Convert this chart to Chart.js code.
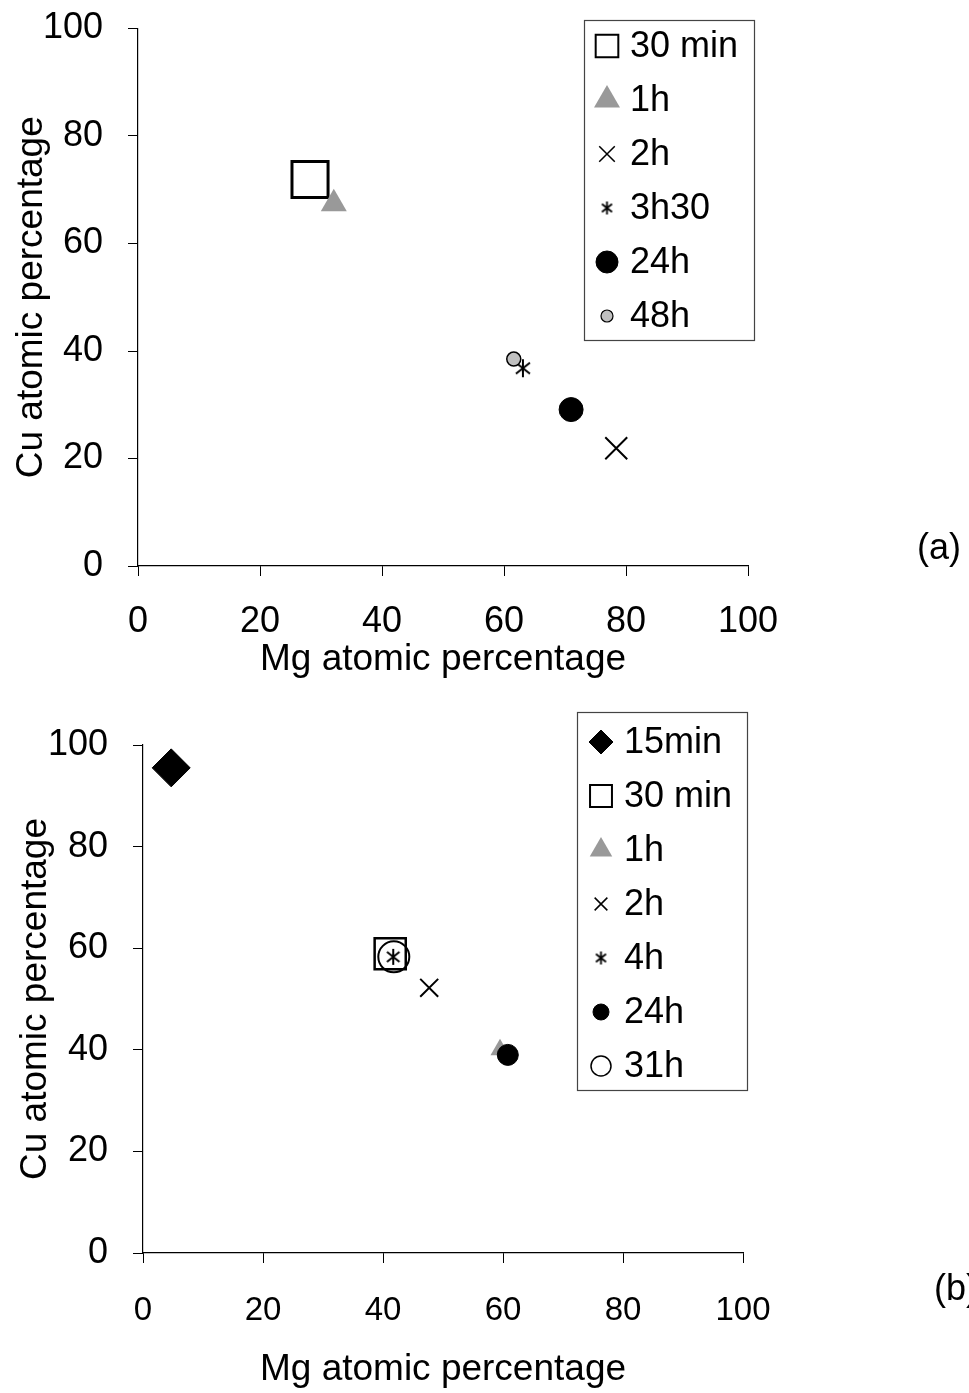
<!DOCTYPE html>
<html>
<head>
<meta charset="utf-8">
<script src="https://cdn.jsdelivr.net/npm/chart.js@4/dist/chart.umd.min.js"></script>
<style>
body{margin:0;background:#fff;width:969px;height:1393px;overflow:hidden}
canvas{display:block}
</style>
</head>
<body>
<canvas id="ga" width="969" height="700"></canvas>
<canvas id="gb" width="969" height="693"></canvas>
<script>
// grafico (a)
const seriesA = ["30 min", "1h", "2h", "3h30", "24h", "48h"];
const mgA = [28.2, 32.1, 78.4, 63.1, 71.0, 61.6];
const cuA = [71.9, 67.4, 21.9, 36.8, 29.1, 38.5];

// grafico (b)
const seriesB = ["15min", "30 min", "1h", "2h", "4h", "24h", "31h"];
const mgB = [4.7, 41.2, 59.5, 47.7, 41.7, 60.8, 41.8];
const cuB = [95.5, 58.9, 40.0, 52.2, 58.3, 39.0, 58.3];

const tickVals = [0, 20, 40, 60, 80, 100];
const xTitle = "Mg atomic percentage";
const yTitle = "Cu atomic percentage";

const FONT = "'Liberation Sans', Arial, sans-serif";
const CINZA = "#999999";

// asterisco: linha vertical + X
function asterisco(size, lw){
  const c = document.createElement("canvas");
  c.width = c.height = size;
  const g = c.getContext("2d");
  g.strokeStyle = "#000";
  g.lineWidth = lw;
  g.lineCap = "butt";
  const m = size / 2, r = size / 2 - 1;
  const dx = r * 0.78, dy = r * 0.62;
  g.beginPath();
  g.moveTo(m, m - r); g.lineTo(m, m + r);
  g.moveTo(m - dx, m - dy); g.lineTo(m + dx, m + dy);
  g.moveTo(m + dx, m - dy); g.lineTo(m - dx, m + dy);
  g.stroke();
  return c;
}

// estilos dos marcadores (grafico / legenda)
const estilosA = [
  {ps:"rect", r:25.5, bg:"#fff", bc:"#000", bw:3, lr:16, lbw:2},
  {ps:"triangle", r:15, bg:CINZA, bc:CINZA, bw:0, lr:15, lbw:0},
  {ps:"crossRot", r:15.5, bg:"#000", bc:"#000", bw:2, lr:11, lbw:1.5},
  {ps:asterisco(20, 2), r:10, bg:"#000", bc:"#000", bw:2, lp:asterisco(15, 1.8)},
  {ps:"circle", r:12, bg:"#000", bc:"#000", bw:1, lr:11, lbw:1},
  {ps:"circle", r:7, bg:"#c0c0c0", bc:"#000", bw:1.5, lr:6, lbw:1.2}
];
const estilosB = [
  {ps:"rectRot", r:19, bg:"#000", bc:"#000", bw:1, lr:12, lbw:1},
  {ps:"rect", r:22, bg:"#fff", bc:"#000", bw:2.5, lr:15.5, lbw:2},
  {ps:"triangle", r:11, bg:CINZA, bc:CINZA, bw:0, lr:13, lbw:0},
  {ps:"crossRot", r:12.7, bg:"#000", bc:"#000", bw:2, lr:9, lbw:1.5},
  {ps:asterisco(18, 2), r:9, bg:"#000", bc:"#000", bw:2, lp:asterisco(15, 1.8)},
  {ps:"circle", r:10.5, bg:"#000", bc:"#000", bw:1, lr:8, lbw:1},
  {ps:"circle", r:15.5, bg:"rgba(0,0,0,0)", bc:"#000", bw:2, lr:10, lbw:1.5}
];

function montarDatasets(nomes, xs, ys, estilos){
  return nomes.map((n, i) => ({
    label: n,
    data: [{x: xs[i], y: ys[i]}],
    pointStyle: estilos[i].ps,
    pointRadius: estilos[i].r,
    backgroundColor: estilos[i].bg,
    borderColor: estilos[i].bc,
    borderWidth: estilos[i].bw,
    order: -i
  }));
}

// legenda desenhada dentro da area do grafico
const legendaBox = {
  id: "legendaBox",
  afterDraw(chart, args, opts){
    const ctx = chart.ctx;
    ctx.save();
    ctx.fillStyle = "#fff";
    ctx.fillRect(opts.x, opts.y, opts.w, opts.h);
    ctx.strokeStyle = "#444";
    ctx.lineWidth = 1.2;
    ctx.strokeRect(opts.x + 0.5, opts.y + 0.5, opts.w, opts.h);
    ctx.font = "36px " + FONT;
    ctx.textBaseline = "middle";
    ctx.textAlign = "left";
    chart.data.datasets.forEach((ds, i) => {
      const e = opts.estilos[i];
      const cy = opts.y + opts.first + i * opts.step;
      ctx.fillStyle = e.bg;
      ctx.strokeStyle = e.bc;
      ctx.lineWidth = e.lbw || 1;
      Chart.helpers.drawPoint(ctx, {
        pointStyle: e.lp || e.ps,
        radius: e.lr || 10,
        rotation: 0,
        borderWidth: e.lbw
      }, opts.mx, cy);
      ctx.fillStyle = "#000";
      ctx.fillText(ds.label, opts.tx, cy + 1);
    });
    ctx.fillStyle = "#000";
    ctx.fillText(opts.tag, opts.tagX, opts.tagY);
    ctx.restore();
  }
};

function opcoes(cfg){
  return {
    responsive: false,
    animation: false,
    events: [],
    layout: {padding: cfg.pad},
    plugins: {
      legend: {display: false},
      tooltip: {enabled: false},
      legendaBox: cfg.leg
    },
    scales: {
      x: {
        type: "linear",
        min: 0, max: 100,
        afterFit: s => { s.height = cfg.xh; },
        afterBuildTicks: s => { s.ticks = tickVals.map(v => ({value: v})); },
        grid: {display: true, drawOnChartArea: false, drawTicks: true, tickLength: 10, color: "#000", lineWidth: 1},
        border: {display: true, color: "#000", width: 1.2},
        ticks: {color: "#000", font: {family: FONT, size: cfg.xfs}, padding: cfg.xpad, maxRotation: 0},
        title: {display: true, text: xTitle, color: "#000", font: {family: FONT, size: 37}, padding: {top: 0, bottom: 0}}
      },
      y: {
        type: "linear",
        min: 0, max: 100,
        afterFit: s => { s.width = cfg.yw; s.paddingTop = 0; s.paddingBottom = 0; },
        afterBuildTicks: s => { s.ticks = tickVals.map(v => ({value: v})); },
        grid: {display: true, drawOnChartArea: false, drawTicks: true, tickLength: 10, color: "#000", lineWidth: 1},
        border: {display: true, color: "#000", width: 1.2},
        ticks: {color: "#000", font: {family: FONT, size: 36}, padding: cfg.ypad},
        title: {display: true, text: yTitle, color: "#000", font: {family: FONT, size: 37}, padding: {top: cfg.ytp, bottom: 0}}
      }
    }
  };
}

new Chart(document.getElementById("ga"), {
  type: "scatter",
  data: {datasets: montarDatasets(seriesA, mgA, cuA, estilosA)},
  options: opcoes({
    pad: {left: 0, top: 26, right: 221, bottom: 18},
    xh: 116, yw: 138, xfs: 36, xpad: 24, ypad: 25, ytp: 10,
    leg: {x: 584, y: 20, w: 170, h: 320, first: 26, step: 54, mx: 607, tx: 630,
          estilos: estilosA, tag: "(a)", tagX: 917, tagY: 549}
  }),
  plugins: [legendaBox]
});

new Chart(document.getElementById("gb"), {
  type: "scatter",
  data: {datasets: montarDatasets(seriesB, mgB, cuB, estilosB)},
  options: opcoes({
    pad: {left: 0, top: 45, right: 226, bottom: 1},
    xh: 139, yw: 143, xfs: 33, xpad: 28, ypad: 25, ytp: 14,
    leg: {x: 577, y: 12, w: 170, h: 378, first: 30, step: 54, mx: 601, tx: 624,
          estilos: estilosB, tag: "(b)", tagX: 934, tagY: 590}
  }),
  plugins: [legendaBox]
});
</script>
</body>
</html>
